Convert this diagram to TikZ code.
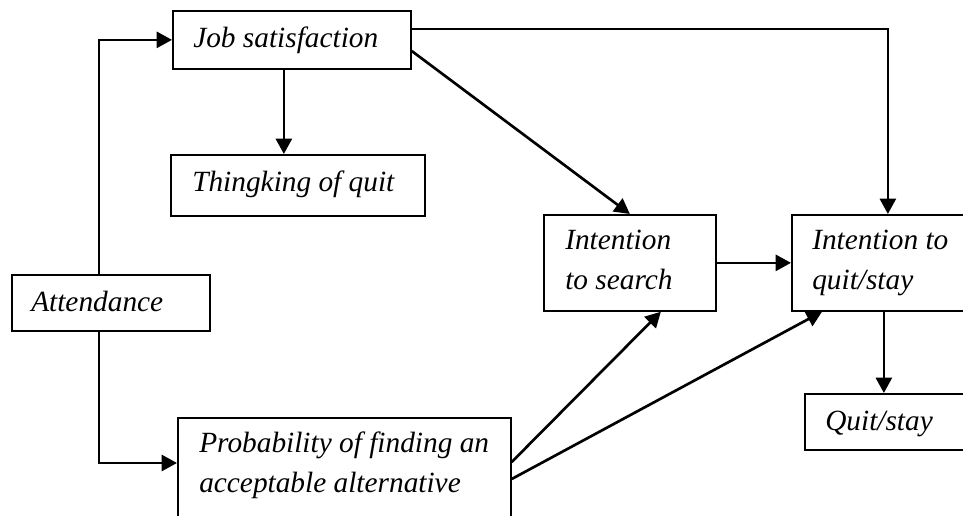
\documentclass[tikz,border=0pt]{standalone}
\usepackage{fontspec}
\setmainfont{Liberation Serif}
\usetikzlibrary{arrows.meta}
\begin{document}
\begin{tikzpicture}[x=0.75pt,y=-0.75pt,
  boxnode/.style={draw, line width=1.3pt, inner sep=0pt, anchor=north west},
  lbl/.style={font=\fontsize{22}{30}\selectfont\itshape, inner sep=0pt, anchor=base west, align=left},
  arr/.style={line width=2pt, -{Triangle[length=11.5pt,width=12pt]}}]
\useasboundingbox (0,0) rectangle (963,516);
\clip (0,0) rectangle (963,516);
\fill[white] (0,0) rectangle (963,516);

\node[boxnode, minimum width=178.5pt, minimum height=43.5pt] (js) at (172,10) {};
\node[boxnode, minimum width=190.5pt, minimum height=45.75pt] (tq) at (170,154) {};
\node[boxnode, minimum width=148.5pt, minimum height=42pt] (att) at (11,274) {};
\node[boxnode, minimum width=249.75pt, minimum height=97.5pt] (prob) at (177,417) {};
\node[boxnode, minimum width=129pt, minimum height=72pt] (is) at (543,214) {};
\node[boxnode, minimum width=144pt, minimum height=72pt] (iq) at (791,214) {};
\node[boxnode, minimum width=135pt, minimum height=42pt] (qs) at (804,393) {};

\node[lbl] (jst) at (193,48) {Job satisfaction};
\node[lbl] (tqt) at (192,192) {Thingking of quit};
\node[lbl] (attt) at (31,312) {Attendance};
\node[lbl] (probt) at (199,492) {Probability of finding an\\acceptable alternative};
\node[lbl] (ist) at (565,290) {Intention\\to search};
\node[lbl] (iqt) at (812,290) {Intention to\\quit/stay};
\node[lbl] (qst) at (825,430) {Quit/stay};

\draw[arr] ([xshift=-9pt]att.north) |- (js.west);
\draw[arr] ([xshift=-9pt]att.south) |- ([yshift=-34.5pt]prob.north west);
\draw[arr] ([xshift=-6pt]js.south) -- ([xshift=-6pt]js.south |- tq.north);
\draw[arr] ([yshift=-14.25pt]js.north east) -| (iq.north);
\draw[arr] ([yshift=-30.75pt]js.north east) -- (is.north);
\draw[arr] (is.east) -- (iq.west);
\draw[arr] ([xshift=-3pt]iq.south) -- ([xshift=-3pt]iq.south |- qs.north);
\draw[arr] ([yshift=-33.75pt]prob.north east) -- ([xshift=23.25pt]is.south);
\draw[arr] ([yshift=-46.5pt]prob.north east) -- ([xshift=23.25pt]iq.south west);
\end{tikzpicture}
\end{document}
